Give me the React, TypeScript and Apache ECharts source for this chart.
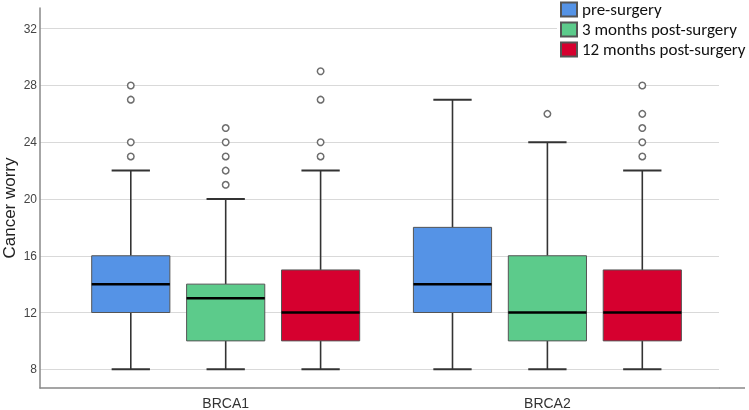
import { useEffect, useRef } from 'react';
import * as echarts from 'echarts';

const categories = ['BRCA1', 'BRCA2'];
const seriesNames = ['pre-surgery', '3 months post-surgery', '12 months post-surgery'];
// [min, Q1, median, Q3, max] per category
const preSurgery = [[8, 12, 14, 16, 22], [8, 12, 14, 18, 27]];
const months3 = [[8, 10, 13, 14, 20], [8, 10, 12, 16, 24]];
const months12 = [[8, 10, 12, 15, 22], [8, 10, 12, 15, 22]];
// [categoryIndex, value]
const preOutliers = [[0, 23], [0, 24], [0, 27], [0, 28]];
const months3Outliers = [[0, 21], [0, 22], [0, 23], [0, 24], [0, 25], [1, 26]];
const months12Outliers = [[0, 23], [0, 24], [0, 27], [0, 29], [1, 23], [1, 24], [1, 25], [1, 26], [1, 28]];
const yTicks = [8, 12, 16, 20, 24, 28, 32];

const colors = ['#5593e6', '#5ccb8b', '#d6002f'];
const offsets = [-0.295, 0, 0.295];
const BOX_W = 0.243;
const FONT = 'Carlito, "Noto Sans", "Open Sans", sans-serif';
const AXFONT = '"Liberation Sans", Arial, sans-serif';

export default function App() {
  const ref = useRef<HTMLDivElement>(null);
  useEffect(() => {
    if (!ref.current) return;
    const chart = echarts.init(ref.current, null, { renderer: 'svg' });
    const stats = [preSurgery, months3, months12];
    const outs = [preOutliers, months3Outliers, months12Outliers];

    const boxSeries = stats.map((s, k) => ({
      name: seriesNames[k],
      type: 'custom',
      itemStyle: { color: colors[k], borderColor: '#555', borderWidth: 1 },
      encode: { x: 0, y: [1, 2, 3, 4, 5] },
      data: s.map((d, i) => [i + 1 + offsets[k], ...d]),
      z: 2,
      renderItem: (params: any, api: any) => {
        const x = api.value(0);
        const lo = api.coord([x, api.value(1)]);
        const q1 = api.coord([x, api.value(2)]);
        const med = api.coord([x, api.value(3)]);
        const q3 = api.coord([x, api.value(4)]);
        const hi = api.coord([x, api.value(5)]);
        const bw = api.size([BOX_W, 0])[0];
        const cw = bw * 0.49;
        const cx = lo[0];
        const wStyle = { stroke: '#333', lineWidth: 1.6 };
        return {
          type: 'group',
          children: [
            { type: 'line', shape: { x1: cx, y1: hi[1], x2: cx, y2: q3[1] }, style: wStyle },
            { type: 'line', shape: { x1: cx, y1: q1[1], x2: cx, y2: lo[1] }, style: wStyle },
            { type: 'line', shape: { x1: cx - cw / 2, y1: hi[1], x2: cx + cw / 2, y2: hi[1] }, style: { stroke: '#333', lineWidth: 2 } },
            { type: 'line', shape: { x1: cx - cw / 2, y1: lo[1], x2: cx + cw / 2, y2: lo[1] }, style: { stroke: '#333', lineWidth: 2 } },
            {
              type: 'rect',
              shape: { x: cx - bw / 2, y: q3[1], width: bw, height: q1[1] - q3[1] },
              style: { fill: colors[k], stroke: '#555', lineWidth: 1 },
            },
            { type: 'line', shape: { x1: cx - bw / 2, y1: med[1], x2: cx + bw / 2, y2: med[1] }, style: { stroke: '#000', lineWidth: 2.5 } },
          ],
        };
      },
    }));

    const outlierSeries = outs.map((o, k) => ({
      name: seriesNames[k] + ' outliers',
      type: 'scatter',
      symbol: 'circle',
      symbolSize: 6.5,
      itemStyle: { color: '#fff', borderColor: '#6e6e6e', borderWidth: 1.5, opacity: 1 },
      data: o.map(([i, v]) => [i + 1 + offsets[k], v]),
      z: 3,
    }));

    chart.setOption({
      animation: false,
      grid: { left: 40, right: 30, top: 8, bottom: 22, containLabel: false, outerBoundsMode: 'none' },
      legend: {
        data: seriesNames,
        orient: 'vertical',
        left: 557,
        top: 0,
        padding: [1, 4, 2, 3],
        backgroundColor: '#fff',
        itemWidth: 16,
        itemHeight: 14,
        itemGap: 3,
        icon: 'rect',
        textStyle: { fontFamily: FONT, fontSize: 17, lineHeight: 17, color: '#111', padding: [0, 0, 0, 0] },
        selectedMode: false,
      },
      xAxis: {
        type: 'value',
        min: 0.4228,
        max: 2.5334,
        axisLine: { show: true, lineStyle: { color: '#888', width: 1.5 } },
        axisTick: { show: false },
        splitLine: { show: false },
        axisLabel: {
          customValues: [1, 2],
          formatter: (v: number) => categories[Math.round(v) - 1] ?? '',
          fontFamily: AXFONT,
          fontSize: 14,
          color: '#333',
          margin: 8,
        },
      },
      yAxis: {
        type: 'value',
        min: 6.68,
        max: 33.46,
        name: 'Cancer worry',
        nameLocation: 'middle',
        nameGap: 22,
        nameMoveOverlap: false,
        nameTextStyle: { fontFamily: AXFONT, fontSize: 17, color: '#222', padding: [0, 20, 0, 0] },
        axisLine: { show: true, lineStyle: { color: '#888', width: 1.5 } },
        axisTick: { show: false, customValues: yTicks },
        axisLabel: { customValues: yTicks, fontFamily: AXFONT, fontSize: 12, color: '#444', margin: 3 },
        splitLine: { show: true, lineStyle: { color: '#d9d9d9', width: 1 } },
      },
      graphic: [
        {
          type: 'line',
          shape: { x1: 719, y1: 388, x2: 745, y2: 388 },
          style: { stroke: '#888', lineWidth: 1.5 },
        },
      ],
      series: [...boxSeries, ...outlierSeries],
    } as any);
    return () => chart.dispose();
  }, []);
  return <div ref={ref} style={{ position: 'fixed', left: 0, top: 0, width: 749, height: 410 }} />;
}
